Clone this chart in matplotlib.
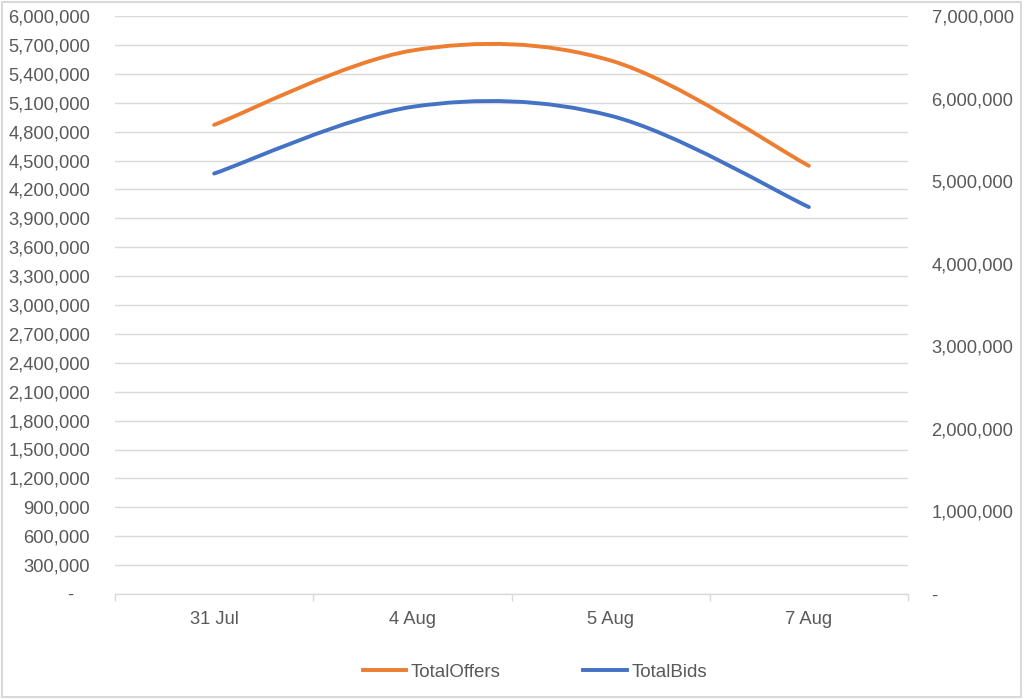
import matplotlib.pyplot as plt
from matplotlib.path import Path
from matplotlib.patches import PathPatch
from matplotlib.lines import Line2D
from matplotlib.ticker import FuncFormatter, MultipleLocator, FixedLocator

plt.rcParams['font.family'] = ['Liberation Sans', 'DejaVu Sans']

# Data
dates = ['31 Jul', '4 Aug', '5 Aug', '7 Aug']
total_offers = [4870000, 5642000, 5538000, 4445000]   # left axis
total_bids = [5092000, 5900000, 5792000, 4686000]     # right axis

ORANGE = '#ED7D31'
BLUE = '#4472C4'
GREY = '#595959'
GRID = '#D9D9D9'


def smooth_path(xs, ys):
    # Excel-like smoothed line: cubic bezier segments through the points
    pts = list(zip(xs, ys))
    n = len(pts)
    verts = [pts[0]]
    codes = [Path.MOVETO]
    for i in range(n - 1):
        p0 = pts[max(i - 1, 0)]
        p1 = pts[i]
        p2 = pts[i + 1]
        p3 = pts[min(i + 2, n - 1)]
        c1 = (p1[0] + (p2[0] - p0[0]) / 6, p1[1] + (p2[1] - p0[1]) / 6)
        c2 = (p2[0] - (p3[0] - p1[0]) / 6, p2[1] - (p3[1] - p1[1]) / 6)
        verts += [c1, c2, p2]
        codes += [Path.CURVE4] * 3
    return Path(verts, codes)


fig = plt.figure(figsize=(10.24, 7), dpi=100)
ax = fig.add_axes([115 / 1024, (700 - 594) / 700, (908 - 115) / 1024, (594 - 16) / 700])
ax2 = ax.twinx()

x = list(range(len(dates)))
ax.add_patch(PathPatch(smooth_path(x, total_offers), fill=False, edgecolor=ORANGE,
                       linewidth=2.8, capstyle='round', zorder=3))
ax2.add_patch(PathPatch(smooth_path(x, total_bids), fill=False, edgecolor=BLUE,
                        linewidth=2.8, capstyle='round', zorder=3))

ax.set_xlim(-0.5, len(dates) - 0.5)
ax.set_ylim(0, 6000000)
ax2.set_ylim(0, 7000000)

ax.yaxis.set_major_locator(MultipleLocator(300000))
ax2.yaxis.set_major_locator(MultipleLocator(1000000))
ax.yaxis.set_major_formatter(FuncFormatter(lambda v, p: '-   ' if v == 0 else f'{v:,.0f}'))
ax2.yaxis.set_major_formatter(FuncFormatter(lambda v, p: '-' if v == 0 else f'{v:,.0f}'))

ax.grid(axis='y', color=GRID, linewidth=1)
ax.set_axisbelow(True)

ax.set_xticks(x)
ax.set_xticklabels(dates)
ax.xaxis.set_minor_locator(FixedLocator([i - 0.5 for i in range(len(dates) + 1)]))
ax.tick_params(axis='x', which='major', length=0, pad=12, labelsize=13.2, labelcolor=GREY)
ax.tick_params(axis='x', which='minor', length=5, width=1, color=GRID)
ax.tick_params(axis='y', length=0, pad=18, labelsize=13.2, labelcolor=GREY)
ax2.tick_params(axis='y', length=0, pad=17, labelsize=13.2, labelcolor=GREY)

for a in (ax, ax2):
    for side in ['top', 'left', 'right', 'bottom']:
        a.spines[side].set_visible(False)
ax.spines['bottom'].set_visible(True)
ax.spines['bottom'].set_color(GRID)
ax.spines['bottom'].set_linewidth(1)

handles = [Line2D([], [], color=ORANGE, linewidth=2.8),
           Line2D([], [], color=BLUE, linewidth=2.8)]
fig.legend(handles, ['TotalOffers', 'TotalBids'], loc='center', ncol=2,
           bbox_to_anchor=(535 / 1024, (700 - 672) / 700), frameon=False,
           fontsize=13.5, labelcolor=GREY, handlelength=2.3,
           handletextpad=0.25, columnspacing=4.4)

# chart area border
fig.patches.append(plt.Rectangle((0.002, 0.004), 0.995, 0.993, transform=fig.transFigure,
                                 fill=False, edgecolor=GRID, linewidth=1.5))

fig.savefig('out.png', dpi=100)
